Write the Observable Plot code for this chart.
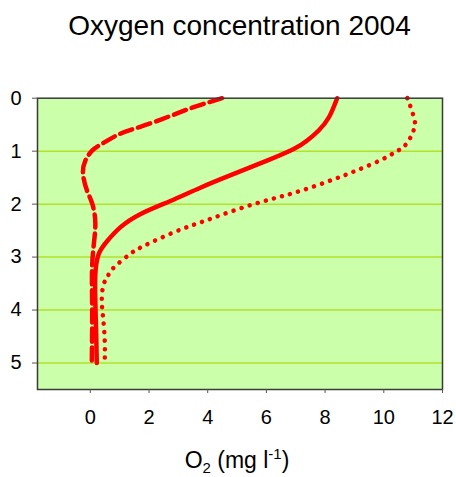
<!DOCTYPE html>
<html>
<head>
<meta charset="utf-8">
<script src="https://cdn.jsdelivr.net/npm/d3@7"></script>
<script src="https://cdn.jsdelivr.net/npm/@observablehq/plot@0.6"></script>
<style>
  body { margin: 0; background: white; font-family: "Liberation Sans", Arial, sans-serif; }
  #wrap { width: 456px; height: 477px; overflow: hidden; }
  #title { box-sizing: border-box; width: 456px; height: 60px; padding-left: 23px; padding-top: 12px;
           text-align: center; font-size: 28px; line-height: 28px; color: #000; }
  #xlabel { box-sizing: border-box; width: 456px; height: 42px; padding-left: 18px; padding-top: 7px;
            text-align: center; font-size: 23px; line-height: 23px; color: #000; }
  #xlabel sub, #xlabel sup { font-size: 15px; }
  svg { display: block; }
</style>
</head>
<body>
<div id="wrap">
  <div id="title">Oxygen concentration 2004</div>
  <div id="chart"></div>
  <div id="xlabel">O<sub>2</sub> (mg l<sup>-1</sup>)</div>
</div>
<script>
// Depth (m) and O2 (mg/l)
const depthDashed = [0, 0.17, 0.36, 0.54, 0.67, 0.86, 0.99, 1.18, 1.43, 1.75, 2.0, 2.35, 2.75, 3.2, 3.8, 4.45, 5.0];
const o2Dashed    = [4.49, 3.52, 2.61, 1.70, 1.02, 0.40, 0.06, -0.17, -0.25, -0.11, 0.07, 0.17, 0.12, 0.06, 0.06, 0.06, 0.05];

const depthSolid = [0, 0.36, 0.61, 0.80, 0.96, 1.18, 1.43, 1.69, 1.94, 2.19, 2.44, 2.70, 2.95, 3.33, 3.83, 4.46, 5.0];
const o2Solid    = [8.41, 8.13, 7.78, 7.39, 6.93, 6.02, 4.89, 3.75, 2.73, 1.70, 1.02, 0.57, 0.28, 0.17, 0.17, 0.20, 0.22];

const depthDotted = [0, 0.16, 0.45, 0.6, 0.74, 0.9, 1.01, 1.17, 1.36, 1.53, 1.75, 1.91, 2.09, 2.30, 2.52, 2.79, 2.96, 3.22, 3.37, 3.52, 3.82, 4.12, 4.56, 5.0];
const o2Dotted    = [10.8, 10.91, 11.06, 11.02, 10.91, 10.71, 10.42, 9.89, 9.09, 8.30, 7.16, 6.14, 5.06, 3.98, 2.90, 1.82, 1.31, 0.76, 0.59, 0.45, 0.39, 0.43, 0.49, 0.49];

const xTicks = [0, 2, 4, 6, 8, 10, 12];
const yTicks = [0, 1, 2, 3, 4, 5];
const gridDepths = [1, 2, 3, 4, 5];

const toRows = (depths, values) => depths.map((d, i) => ({depth: d, o2: values[i]}));
const dashed = toRows(depthDashed, o2Dashed);
const solid = toRows(depthSolid, o2Solid);
const dotted = toRows(depthDotted, o2Dotted);

const chart = Plot.plot({
  width: 456,
  height: 375,
  marginLeft: 37,
  marginRight: 14,
  marginTop: 37.7,
  marginBottom: 46,
  style: {fontFamily: "'Liberation Sans', Arial, sans-serif", fontSize: "20px", color: "black", background: "white", overflow: "visible"},
  x: {domain: [-1.8, 12]},
  y: {domain: [0, 5.5], reverse: true},
  marks: [
    Plot.frame({fill: "#ccffaa", stroke: null}),
    Plot.ruleY(gridDepths, {stroke: "#b2e22c", strokeWidth: 1.5}),
    Plot.line(dashed, {x: "o2", y: "depth", stroke: "#ff0000", strokeWidth: 4.5, strokeDasharray: "13,6", curve: "natural"}),
    Plot.line(solid, {x: "o2", y: "depth", stroke: "#ff0000", strokeWidth: 4.5, curve: "natural"}),
    Plot.line(dotted, {x: "o2", y: "depth", stroke: "#ff0000", strokeWidth: 4.5, strokeDasharray: "0.1,8.3", strokeLinecap: "round", curve: "natural"}),
    Plot.frame({stroke: "#3a3a3a", strokeWidth: 1.5}),
    Plot.axisX({ticks: xTicks, tickSize: 4, tickPadding: 16, stroke: "#555", fill: "black", fontSize: 20, label: null, tickFormat: d3.format("d")}),
    Plot.axisY({ticks: yTicks, tickSize: 5, tickPadding: 11, stroke: "#555", fill: "black", fontSize: 20, label: null, tickFormat: d3.format("d")})
  ]
});
document.getElementById("chart").appendChild(chart);
</script>
</body>
</html>
